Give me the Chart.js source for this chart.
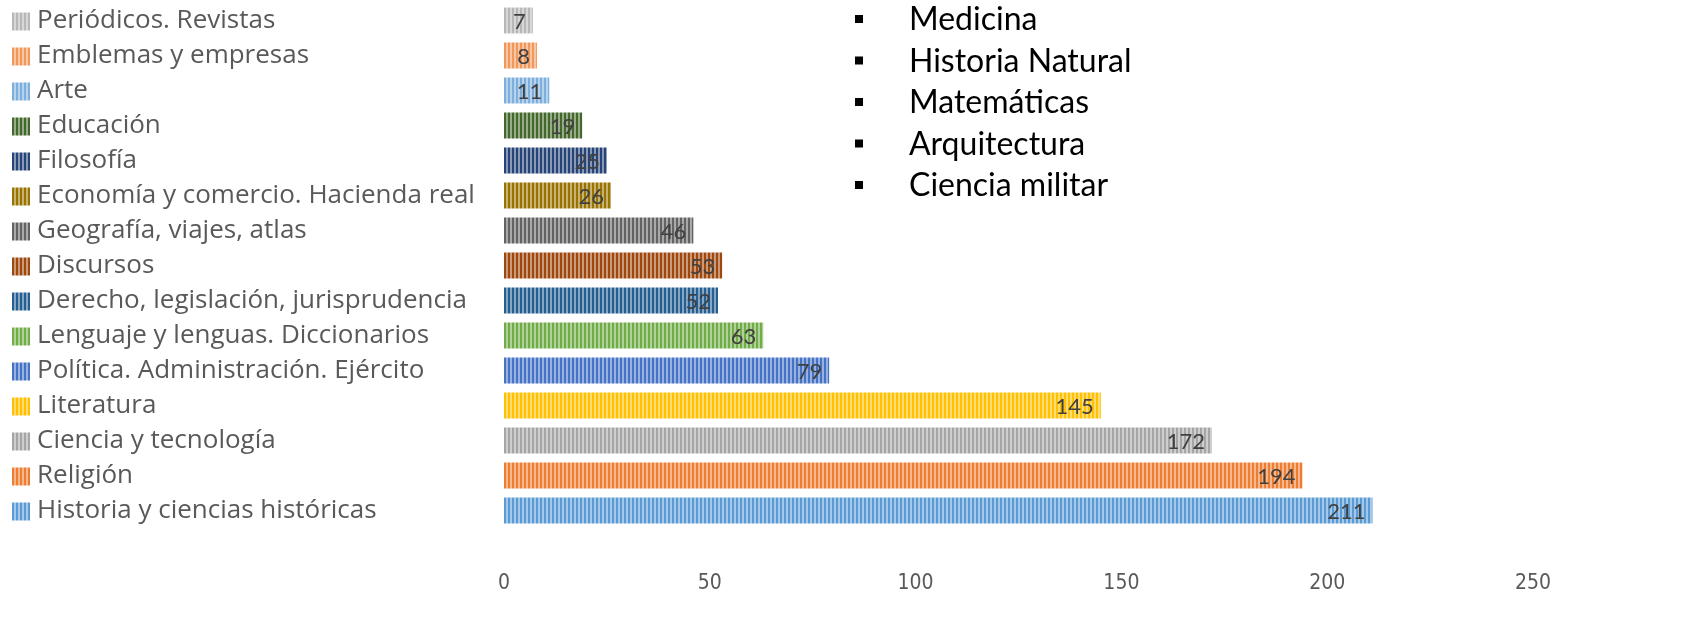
<!DOCTYPE html>
<html><head><meta charset="utf-8">
<script src="https://cdn.jsdelivr.net/npm/chart.js@4/dist/chart.umd.min.js"></script>
<style>html,body{margin:0;padding:0;background:#fff;overflow:hidden}#wrap{width:1688px;height:633px;position:relative}</style>
</head><body><div id="wrap"><canvas id="c" width="1688" height="633"></canvas></div>
<script>
const categories = ['Periódicos. Revistas','Emblemas y empresas','Arte','Educación','Filosofía','Economía y comercio. Hacienda real','Geografía, viajes, atlas','Discursos','Derecho, legislación, jurisprudencia','Lenguaje y lenguas. Diccionarios','Política. Administración. Ejército','Literatura','Ciencia y tecnología','Religión','Historia y ciencias históricas'];
const values = [7,8,11,19,25,26,46,53,52,63,79,145,172,194,211];
const colors = ['#B7B7B7','#F1975A','#7CAFDD','#43682B','#264478','#997300','#636363','#9E480E','#255E91','#70AD47','#4472C4','#FFC000','#A5A5A5','#ED7D31','#5B9BD5'];
const xTicks = [0,50,100,150,200,250];
const notes = ['Medicina','Historia Natural','Matemáticas','Arquitectura','Ciencia militar'];

const FONT = 'Lato, "Open Sans", sans-serif';
const LABEL_FONT = '"Open Sans", Lato, sans-serif';
const TICK_FONT = '"Liberation Sans Narrow", "DejaVu Sans Condensed", Lato, sans-serif';
function lighten(hex, f){
  const n=parseInt(hex.slice(1),16);const r=n>>16,g=(n>>8)&255,b=n&255;
  const m=v=>Math.round(v+(255-v)*f);
  return `rgb(${m(r)},${m(g)},${m(b)})`;
}
function makePattern(hex){
  const c=document.createElement('canvas');c.width=4;c.height=4;
  const x=c.getContext('2d');
  x.fillStyle=hex;x.fillRect(0,0,4,4);
  x.fillStyle=lighten(hex,0.45);x.fillRect(2,0,2,4);
  return x.createPattern(c,'repeat');
}
const patterns = colors.map(makePattern);

const extras = {
  id:'extras',
  afterDraw(chart){
    const ctx=chart.ctx, y=chart.scales.y;
    ctx.save();
    categories.forEach((c,i)=>{
      const py=y.getPixelForTick(i);
      ctx.fillStyle=patterns[i];
      ctx.fillRect(12,py-8,18,18);
    });
    ctx.font='22px '+FONT;ctx.fillStyle='#404040';ctx.textAlign='right';ctx.textBaseline='middle';
    const meta=chart.getDatasetMeta(0);
    meta.data.forEach((bar,i)=>{
      ctx.fillText(String(values[i]), bar.x-7, bar.y+1);
    });
    ctx.font='32px '+FONT;ctx.fillStyle='#000';ctx.textAlign='left';
    notes.forEach((t,i)=>{
      const cy=19+i*41.5;
      ctx.fillRect(855,cy-4,8,8);
      ctx.fillText(t,909,cy+1);
    });
    ctx.restore();
  }
};

new Chart(document.getElementById('c'),{
  type:'bar',
  data:{labels:categories,datasets:[{data:values,backgroundColor:patterns,borderWidth:0,categoryPercentage:1,barPercentage:0.74}]},
  options:{
    indexAxis:'y',responsive:false,animation:false,devicePixelRatio:1,
    layout:{padding:{left:37,right:155,top:3,bottom:0}},
    plugins:{legend:{display:false},tooltip:{enabled:false}},
    scales:{
      x:{min:0,max:250,afterBuildTicks:s=>{s.ticks=xTicks.map(v=>({value:v}));},
        grid:{display:false},border:{display:false},
        ticks:{padding:35,color:'#595959',font:{family:TICK_FONT,size:21,lineHeight:1.2}},
        afterFit:s=>{s.height=105;}},
      y:{grid:{display:false},border:{display:false},
        ticks:{crossAlign:'far',color:'#595959',font:{family:LABEL_FONT,size:26,lineHeight:0.2},padding:0},
        afterFit:s=>{s.width=467;}}
    }
  },
  plugins:[extras]
});
</script></body></html>
